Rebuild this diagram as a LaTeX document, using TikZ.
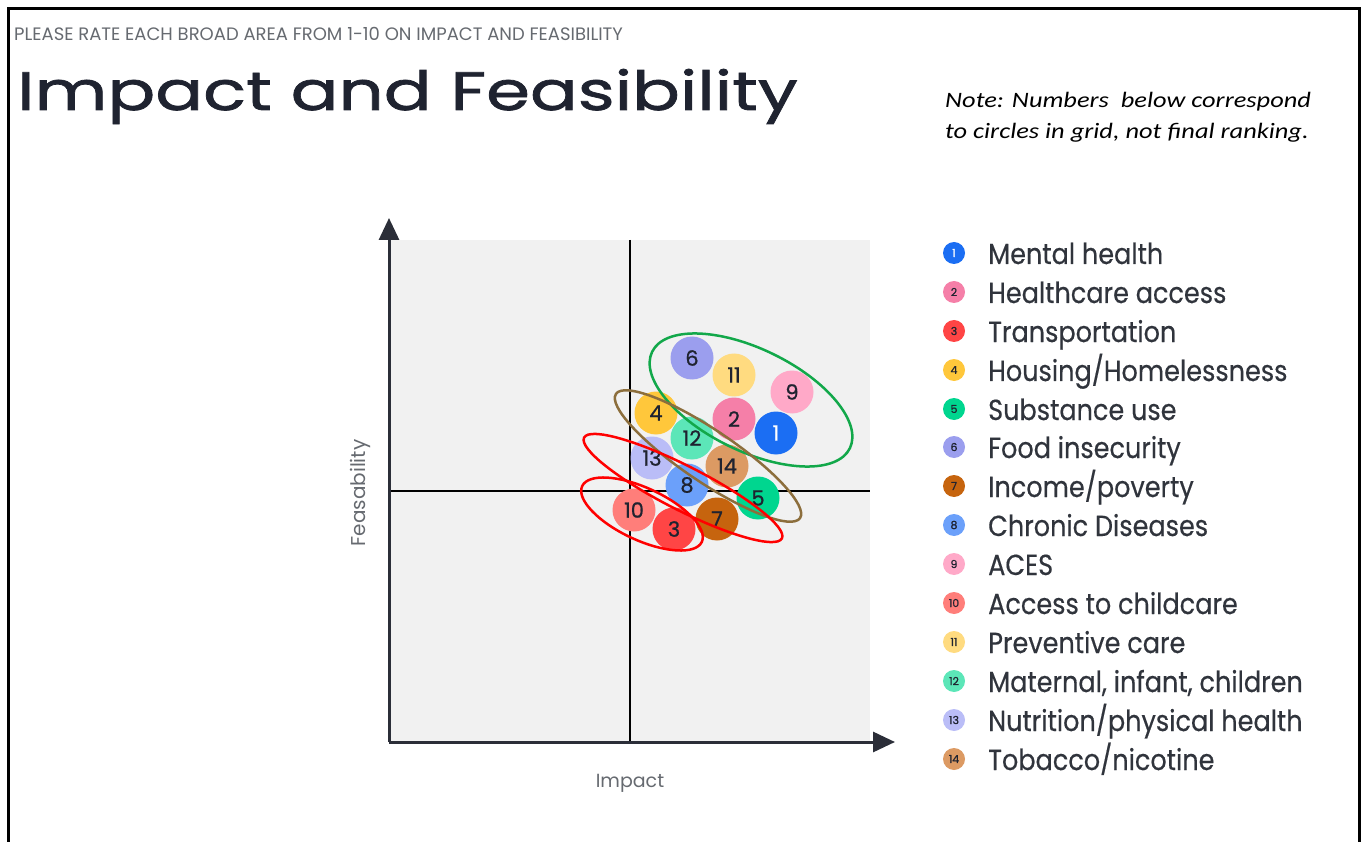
\documentclass[tikz,border=0pt]{standalone}
\usepackage{fontspec}
\setmainfont{Poppins}
\newfontfamily\notefont[FakeStretch=1.2]{Carlito}
\newfontfamily\keyfont[FakeStretch=0.88,FakeBold=0.4]{Poppins}
\newfontfamily\titlefont[FakeStretch=1.31,FakeBold=1.4]{Poppins}
\newfontfamily\numfont[FakeBold=0.8]{Poppins}
\usepackage{xcolor}
\usepackage{tikz}
\usetikzlibrary{arrows.meta}

\definecolor{c1}{HTML}{1B6EF3}
\definecolor{c2}{HTML}{F57FA8}
\definecolor{c3}{HTML}{FF4545}
\definecolor{c4}{HTML}{FFC73B}
\definecolor{c5}{HTML}{00D68F}
\definecolor{c6}{HTML}{9B9EEE}
\definecolor{c7}{HTML}{C6640E}
\definecolor{c8}{HTML}{6BA0FA}
\definecolor{c9}{HTML}{FFA9C8}
\definecolor{c10}{HTML}{FF7E7A}
\definecolor{c11}{HTML}{FFDB80}
\definecolor{c12}{HTML}{5CE6B8}
\definecolor{c13}{HTML}{BABDF7}
\definecolor{c14}{HTML}{DC9A63}
\definecolor{plotgray}{HTML}{F1F1F1}
\definecolor{axisdark}{HTML}{2B2E38}
\definecolor{inkdark}{HTML}{1F2330}
\definecolor{keygray}{HTML}{30343C}
\definecolor{capgray}{HTML}{666A70}
\definecolor{ringgreen}{HTML}{12A84A}
\definecolor{ringbrown}{HTML}{8C6E3C}
\definecolor{ringred}{HTML}{FF0000}

\begin{document}
\begin{tikzpicture}[x=1pt,y=-1pt,
  bubble/.style={circle,inner sep=0pt,minimum size=43pt,text=inkdark,font=\numfont\fontsize{21}{21}\selectfont},
  keydot/.style={circle,inner sep=0pt,minimum size=22pt,text=inkdark,font=\numfont\fontsize{11}{11}\selectfont},
  keytext/.style={anchor=base west,inner sep=0pt,text=keygray,font=\keyfont\fontsize{29}{29}\selectfont},
  axis/.style={draw=axisdark,line width=3pt,-{Triangle[length=22pt,width=20pt]}},
  ring/.style={line width=2.5pt}]
\useasboundingbox (0,0) rectangle (1363,842);
\draw[line width=3pt] (8,842) -- (8,9) -- (1359,9) -- (1359,842);

% header
\node[anchor=base west,inner sep=0pt,text=capgray,font=\fontsize{18}{18}\selectfont] (prompt) at (14,41) {PLEASE RATE EACH BROAD AREA FROM 1-10 ON IMPACT AND FEASIBILITY};
\node[anchor=base west,inner sep=0pt,text=inkdark,font=\titlefont\fontsize{54}{54}\selectfont] (title) at (17,110) {Impact and Feasibility};
\node[anchor=base west,inner sep=0pt,font=\notefont\itshape\fontsize{22}{22}\selectfont] (note1) at (945,108) {Note: Numbers\ \ below correspond};
\node[anchor=base west,inner sep=0pt,font=\notefont\itshape\fontsize{22}{22}\selectfont] (note2) at (945,139) {to circles in grid, not final ranking.};

% grid
\fill[plotgray] (390,240) rectangle (870,742);
\draw[line width=1.5pt] (630,240) -- (630,742);
\draw[line width=1.5pt] (390,491) -- (870,491);
\coordinate (origin) at (389,742);
\coordinate (ytip) at (389,218);
\coordinate (xtip) at (895,742);
\draw[axis] (origin) -- (ytip);
\draw[axis] (origin) -- (xtip);
\node[rotate=90,text=capgray,font=\fontsize{20}{20}\selectfont] (feas) at (360,493) {Feasability};
\node[text=capgray,font=\fontsize{19}{19}\selectfont] (impact) at (630,783) {Impact};

% circles
\node[bubble,fill=c13] (b13) at (652,458) {13};
\node[bubble,fill=c10] (b10) at (634,510) {10};
\node[bubble,fill=c3] (b3) at (674,529) {3};
\node[bubble,fill=c4] (b4) at (656,413) {4};
\node[bubble,fill=c6] (b6) at (692,358) {6};
\node[bubble,fill=c11] (b11) at (734,375) {11};
\node[bubble,fill=c9] (b9) at (792,392) {9};
\node[bubble,fill=c2] (b2) at (734,419) {2};
\node[bubble,fill=c1,text=white] (b1) at (776,433) {1};
\node[bubble,fill=c12] (b12) at (692,438) {12};
\node[bubble,fill=c8] (b8) at (687,485) {8};
\node[bubble,fill=c14] (b14) at (727,466) {14};
\node[bubble,fill=c7] (b7) at (717,519) {7};
\node[bubble,fill=c5] (b5) at (758,498) {5};

% groups
\draw[ring,ringgreen,rotate around={-26:(751,400)}] (751,400) ellipse [x radius=110,y radius=51];
\draw[ring,ringbrown,rotate around={-34:(708,456)}] (708,456) ellipse [x radius=111,y radius=26];
\draw[ring,ringred,rotate around={-27:(683,488)}] (683,488) ellipse [x radius=111,y radius=22];
\draw[ring,ringred,rotate around={-25:(642,514)}] (642,514) ellipse [x radius=66,y radius=26];

% legend
\node[keydot,fill=c1,text=white] (k1) at (954,253) {1};
\node[keytext] (t1) at (988,264) {Mental health};
\node[keydot,fill=c2] (k2) at (954,292) {2};
\node[keytext] (t2) at (988,303) {Healthcare access};
\node[keydot,fill=c3] (k3) at (954,331) {3};
\node[keytext] (t3) at (988,342) {Transportation};
\node[keydot,fill=c4] (k4) at (954,370) {4};
\node[keytext] (t4) at (988,381) {Housing/Homelessness};
\node[keydot,fill=c5] (k5) at (954,409) {5};
\node[keytext] (t5) at (988,420) {Substance use};
\node[keydot,fill=c6] (k6) at (954,447) {6};
\node[keytext] (t6) at (988,458) {Food insecurity};
\node[keydot,fill=c7] (k7) at (954,486) {7};
\node[keytext] (t7) at (988,497) {Income/poverty};
\node[keydot,fill=c8] (k8) at (954,525) {8};
\node[keytext] (t8) at (988,536) {Chronic Diseases};
\node[keydot,fill=c9] (k9) at (954,564) {9};
\node[keytext] (t9) at (988,575) {ACES};
\node[keydot,fill=c10] (k10) at (954,603) {10};
\node[keytext] (t10) at (988,614) {Access to childcare};
\node[keydot,fill=c11] (k11) at (954,642) {11};
\node[keytext] (t11) at (988,653) {Preventive care};
\node[keydot,fill=c12] (k12) at (954,681) {12};
\node[keytext] (t12) at (988,692) {Maternal, infant, children};
\node[keydot,fill=c13] (k13) at (954,720) {13};
\node[keytext] (t13) at (988,731) {Nutrition/physical health};
\node[keydot,fill=c14] (k14) at (954,759) {14};
\node[keytext] (t14) at (988,770) {Tobacco/nicotine};
\end{tikzpicture}
\end{document}
